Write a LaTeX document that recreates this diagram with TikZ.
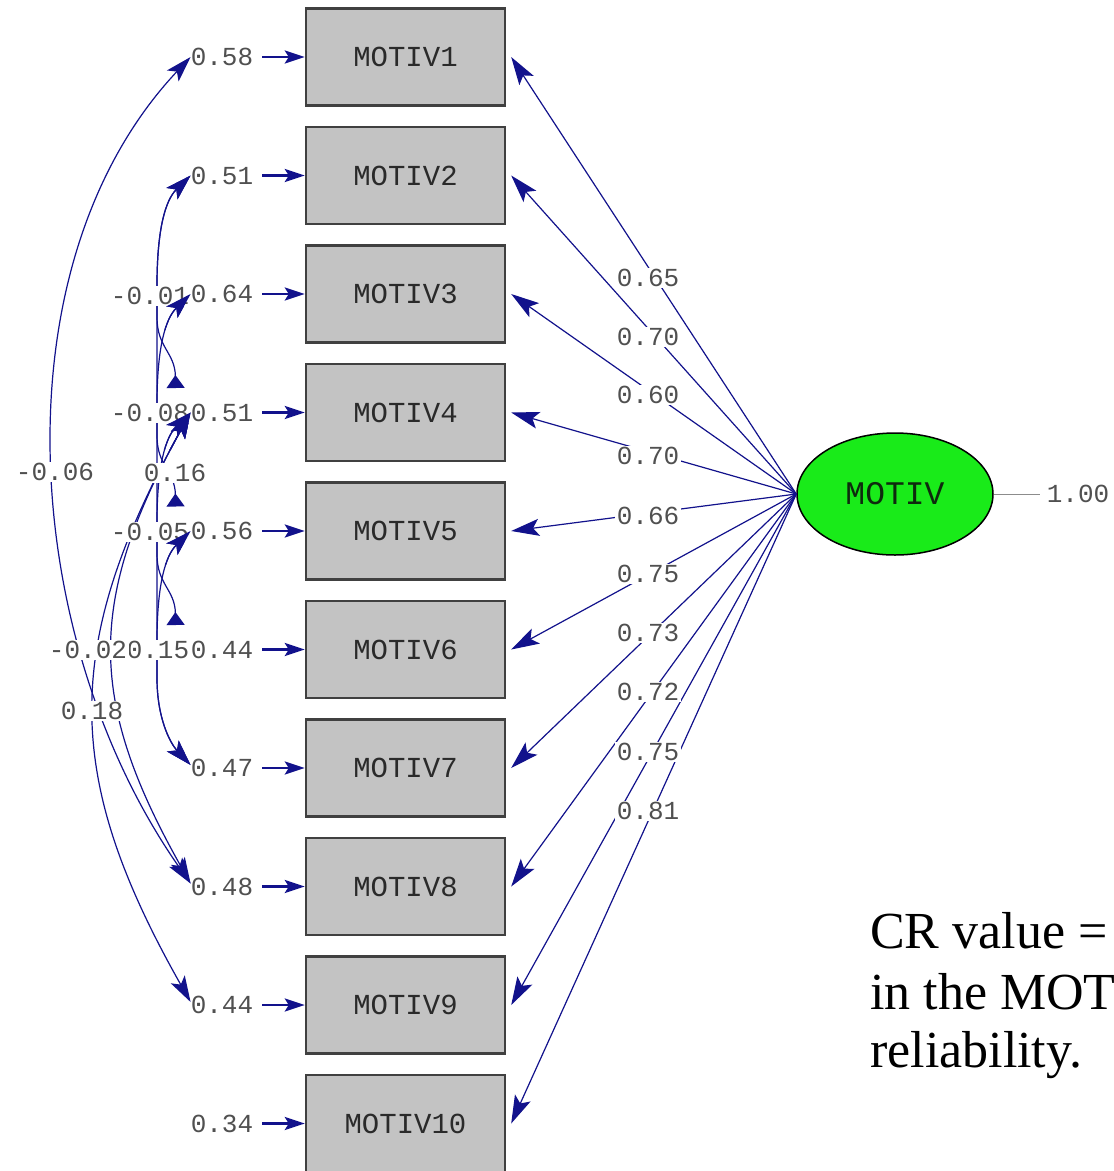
\documentclass[tikz,border=0pt]{standalone}
\usepackage{fontspec}
\setmainfont{Liberation Serif}
\newfontfamily\lisfont{Liberation Mono}
\usetikzlibrary{arrows.meta,shapes.geometric}

\definecolor{navy}{HTML}{12128C}
\definecolor{numgray}{HTML}{505050}
\definecolor{boxgray}{HTML}{C3C3C3}
\definecolor{boxedge}{HTML}{404040}
\definecolor{boxtext}{HTML}{2A2A2A}
\definecolor{latgreen}{HTML}{19EB19}
\definecolor{lattext}{HTML}{0E2A0E}
\definecolor{thingray}{HTML}{8C8C8C}

\tikzset{
  num/.style={font=\lisfont\fontsize{26}{30}\selectfont, text=numgray, inner sep=0pt},
  numw/.style={num, fill=white, inner sep=1.5pt},
  obs/.style={rectangle, draw=boxedge, line width=2.4pt, fill=boxgray,
    minimum width=199pt, minimum height=97pt, inner sep=0pt,
    font=\lisfont\fontsize{29}{32}\selectfont, text=boxtext},
  lat/.style={ellipse, draw=black, line width=1.5pt, fill=latgreen,
    minimum width=196pt, minimum height=122pt, inner sep=0pt,
    font=\lisfont\fontsize{33}{36}\selectfont, text=lattext},
  load/.style={draw=navy, line width=1.2pt, -{Stealth[length=28pt,width=17pt,inset=6pt]}},
  errarr/.style={draw=navy, line width=2.8pt, -{Stealth[length=20pt,width=13pt,inset=4pt]}},
  cov/.style={draw=navy, line width=1.2pt,
    {Stealth[length=26pt,width=16pt,inset=6pt]}-{Stealth[length=26pt,width=16pt,inset=6pt]}},
  covtri/.style={draw=navy, line width=1.2pt,
    {Stealth[length=26pt,width=16pt,inset=6pt]}-{Triangle[reversed,length=13pt,width=18pt]}},
  crtext/.style={font=\fontsize{52}{60}\selectfont, inner sep=0pt, anchor=base west},
}

% error covariances among the indicators
\newcommand\covpaths{%
  \draw[cov] (ev1.west) .. controls (-5,265) and (20,640) .. ([yshift=3pt]ev8.west);
  \draw[cov] (ev4.west) .. controls (62,645) and (62,775) .. ([yshift=3pt]ev9.west);
  \draw[cov] (ev4.west) .. controls (87,600) and (87,700) .. ([yshift=3pt]ev8.west);
  \draw[cov] (ev2.west) .. controls (165,200.5) and (157,230.5) .. (157,285.5)
     -- (157,678) .. controls (157,718) and (170,743) .. ([yshift=3pt]ev7.west);
  \draw[covtri] (ev2.west) .. controls (165,200.5) and (157,230.5) .. (157,285.5)
     -- (157,317.5) .. controls (157,347.5) and (175,352.5) .. ([xshift=-15pt,yshift=24.5pt]ev4.west);
  \draw[covtri] (ev3.west) .. controls (165,319) and (157,349) .. (157,404)
     -- (157,436) .. controls (157,466) and (175,471) .. ([xshift=-15pt,yshift=24.5pt]ev5.west);
  \draw[covtri] (ev4.west) .. controls (165,437.5) and (157,467.5) .. (157,522.5)
     -- (157,554.5) .. controls (157,584.5) and (175,589.5) .. ([xshift=-15pt,yshift=24.5pt]ev6.west);
  \draw[cov] (ev5.west) .. controls (165,556) and (157,586) .. (157,641)
     -- (157,678) .. controls (157,718) and (170,743) .. ([yshift=3pt]ev7.west);
}

\begin{document}
\begin{tikzpicture}[x=1pt,y=-1pt]
\clip (0,0) rectangle (1114,1171);
\fill[white] (0,0) rectangle (1114,1171);

% indicators and their error variances
\foreach \k/\v in {1/0.58,2/0.51,3/0.64,4/0.51,5/0.56,6/0.44,7/0.47,8/0.48,9/0.44,10/0.34} {
  \pgfmathsetmacro\yy{57+118.5*(\k-1)}
  \node[obs] (b\k) at (405.5,\yy) {MOTIV\k};
  \node[num] (ev\k) at (222,\yy) {\v};
  \draw[errarr] ([xshift=9pt]ev\k.east) -- (b\k.west);
}

% latent factor
\node[lat] (motiv) at (895,494) {MOTIV};
\node[num] (fv) at (1078,494) {1.00};
\draw[thingray, line width=1pt, shorten >=7pt] (motiv.east) -- (fv.west);

% loadings
\foreach \k in {1,...,10} {
  \draw[load] (motiv.west) -- ([xshift=5pt]b\k.east);
}
\foreach \k/\v/\ly in {1/0.65/278,2/0.70/337,3/0.60/395,4/0.70/456,5/0.66/516,
                       6/0.75/574,7/0.73/633,8/0.72/692,9/0.75/752,10/0.81/811} {
  \node[numw] (l\k) at (648,\ly) {\v};
}

% covariances, their values, then the arrow heads again over the values
\covpaths
\node[numw] (c18) at (55,472) {-0.06};
\node[numw] (c24) at (150,296) {-0.01};
\node[numw] (c35) at (150,413) {-0.08};
\node[numw] (c27) at (175,473) {0.16};
\node[numw] (c46) at (150,532) {-0.05};
\node[numw] (c57) at (158,650) {0.15};
\node[numw] (c48) at (88,650) {-0.02};
\node[numw] (c49) at (92,711) {0.18};
\begin{scope}
  \clip (163,288) rectangle (200,330) (163,406) rectangle (200,450) (163,525) rectangle (200,565);
  \covpaths
\end{scope}

% note on reliability
\node[crtext] (cr1) at (870,948) {CR value =};
\node[crtext] (cr2) at (870,1009) {in the MOT};
\node[crtext] (cr3) at (870,1067) {reliability.};
\end{tikzpicture}
\end{document}
